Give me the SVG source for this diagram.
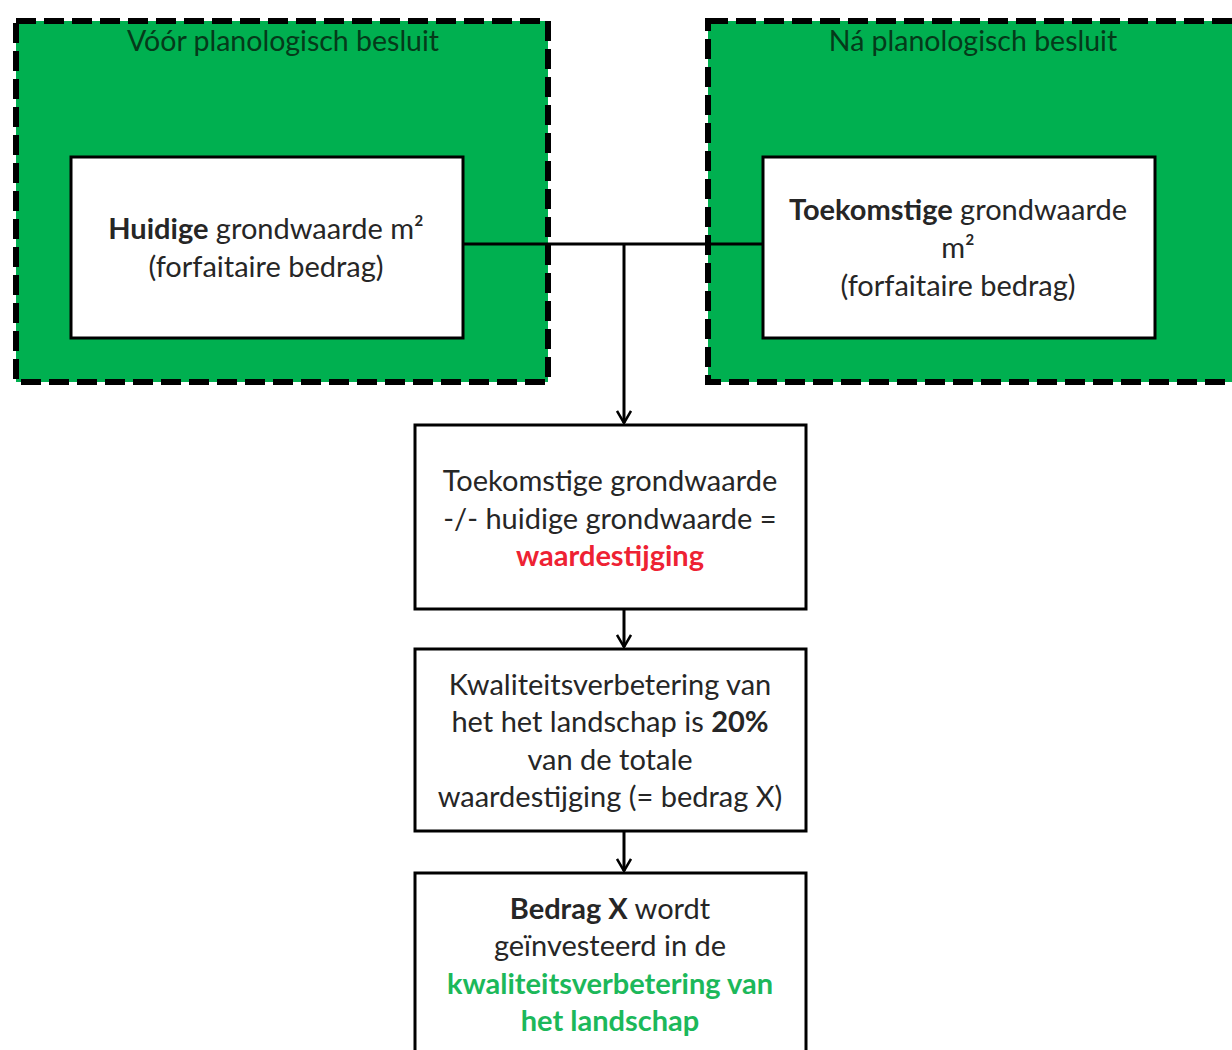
<svg xmlns="http://www.w3.org/2000/svg" width="1232" height="1050" viewBox="0 0 1232 1050">
<style>
.grp{fill:#00b050;stroke:#000;stroke-width:6;stroke-dasharray:20 8}
.box{fill:#fff;stroke:#000;stroke-width:3}
.t{font-family:Lato,"Liberation Sans",sans-serif;font-size:29px;fill:#262626;text-anchor:middle}
.h{font-family:Lato,"Liberation Sans",sans-serif;font-size:28.5px;fill:#053a1a;text-anchor:middle}
.b{font-weight:bold}
.red{fill:#ee2233;font-weight:bold}
.grn{fill:#1cb85a;font-weight:bold}
.c{fill:none;stroke:#000;stroke-width:3}
</style>
<defs>
<marker id="arr" viewBox="0 0 16 16" refX="14" refY="8" markerWidth="16" markerHeight="16" markerUnits="userSpaceOnUse" orient="auto">
<path d="M2,1 L14,8 L2,15" fill="none" stroke="#000" stroke-width="2.5"/>
</marker>
</defs>
<rect width="1232" height="1050" fill="#fff"/>
<g id="voor">
<rect class="grp" x="16" y="21" width="532" height="361"/>
<text class="h" x="283" y="51">Vóór planologisch besluit</text>
</g>
<g id="na">
<rect class="grp" x="708" y="21" width="540" height="361"/>
<text class="h" x="973" y="51">Ná planologisch besluit</text>
</g>
<g id="huidig">
<rect class="box" x="71" y="157" width="392" height="181"/>
<text class="t" x="266" y="239"><tspan class="b">Huidige</tspan> grondwaarde m²</text>
<text class="t" x="266" y="277">(forfaitaire bedrag)</text>
</g>
<g id="toekomstig">
<rect class="box" x="763" y="157" width="392" height="181"/>
<text class="t" x="958" y="220"><tspan class="b">Toekomstige</tspan> grondwaarde</text>
<text class="t" x="958" y="258">m²</text>
<text class="t" x="958" y="296">(forfaitaire bedrag)</text>
</g>
<g id="stijging">
<rect class="box" x="415" y="425" width="391" height="184"/>
<text class="t" x="610" y="491">Toekomstige grondwaarde</text>
<text class="t" x="610" y="529">-/- huidige grondwaarde =</text>
<text class="t red" x="610" y="566">waardestijging</text>
</g>
<g id="kwaliteit">
<rect class="box" x="415" y="649" width="391" height="182"/>
<text class="t" x="610" y="695">Kwaliteitsverbetering van</text>
<text class="t" x="610" y="732">het het landschap is <tspan class="b">20%</tspan></text>
<text class="t" x="610" y="770">van de totale</text>
<text class="t" x="610" y="807">waardestijging (= bedrag X)</text>
</g>
<g id="bedrag">
<rect class="box" x="415" y="873" width="391" height="190"/>
<text class="t" x="610" y="919"><tspan class="b">Bedrag X</tspan> wordt</text>
<text class="t" x="610" y="956">geïnvesteerd in de</text>
<text class="t grn" x="610" y="994">kwaliteitsverbetering van</text>
<text class="t grn" x="610" y="1031">het landschap</text>
</g>
<g id="connectors">
<path class="c" d="M463,244 H763"/>
<path class="c" d="M624,244 V423" marker-end="url(#arr)"/>
<path class="c" d="M624,609 V647" marker-end="url(#arr)"/>
<path class="c" d="M624,831 V871" marker-end="url(#arr)"/>
</g>
</svg>
